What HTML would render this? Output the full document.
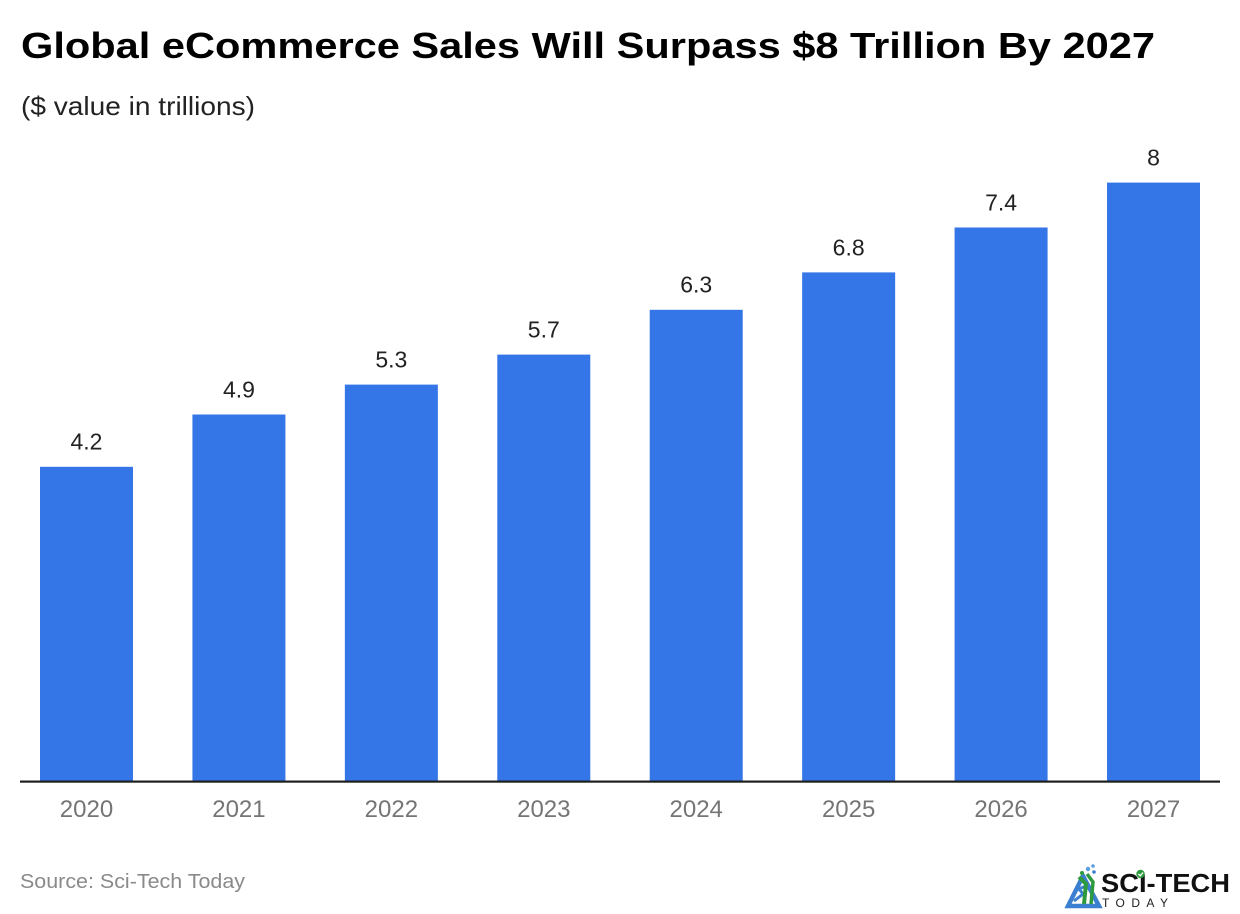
<!DOCTYPE html>
<html>
<head>
<meta charset="utf-8">
<style>
  html, body { margin: 0; padding: 0; background: #ffffff; }
  svg { display: block; }
  text { font-family: "Liberation Sans", Arial, sans-serif; }
</style>
</head>
<body>
<svg width="1240" height="914" viewBox="0 0 1240 914" xmlns="http://www.w3.org/2000/svg">
  <rect x="0" y="0" width="1240" height="914" fill="#ffffff"/>

  <!-- Title -->
  <text x="21" y="58" font-size="36" font-weight="bold" fill="#000000" textLength="1134" lengthAdjust="spacingAndGlyphs">Global eCommerce Sales Will Surpass $8 Trillion By 2027</text>
  <!-- Subtitle -->
  <text x="21" y="115" font-size="26" fill="#222222" textLength="234" lengthAdjust="spacingAndGlyphs">($ value in trillions)</text>

  <!-- Bars -->
  <g fill="#3475e8">
    <rect x="40" y="466.8" width="93" height="314.2"/>
    <rect x="192.43" y="414.5" width="93" height="366.5"/>
    <rect x="344.86" y="384.6" width="93" height="396.4"/>
    <rect x="497.29" y="354.6" width="93" height="426.4"/>
    <rect x="649.72" y="309.8" width="93" height="471.2"/>
    <rect x="802.15" y="272.4" width="93" height="508.6"/>
    <rect x="954.58" y="227.5" width="93" height="553.5"/>
    <rect x="1107.01" y="182.6" width="93" height="598.4"/>
  </g>

  <!-- Value labels -->
  <g font-size="23" fill="#222222" text-anchor="middle">
    <text x="86.5" y="449.5">4.2</text>
    <text x="238.93" y="397.5">4.9</text>
    <text x="391.36" y="367.5">5.3</text>
    <text x="543.79" y="337.5">5.7</text>
    <text x="696.22" y="292.5">6.3</text>
    <text x="848.65" y="255.5">6.8</text>
    <text x="1001.08" y="210.5">7.4</text>
    <text x="1153.51" y="165.5">8</text>
  </g>

  <!-- Axis line -->
  <rect x="20" y="780.5" width="1200" height="2.2" fill="#1f1f1f"/>

  <!-- Year labels -->
  <g font-size="24" fill="#757575" text-anchor="middle">
    <text x="86.5" y="817">2020</text>
    <text x="238.93" y="817">2021</text>
    <text x="391.36" y="817">2022</text>
    <text x="543.79" y="817">2023</text>
    <text x="696.22" y="817">2024</text>
    <text x="848.65" y="817">2025</text>
    <text x="1001.08" y="817">2026</text>
    <text x="1153.51" y="817">2027</text>
  </g>

  <!-- Source -->
  <text x="20" y="888" font-size="20" fill="#8a8a8a" textLength="225" lengthAdjust="spacingAndGlyphs">Source: Sci-Tech Today</text>

  <!-- Logo icon -->
  <g>
    <polygon points="1068,906 1083,876 1099,906" fill="none" stroke="#3a7fd0" stroke-width="4.5"/>
    <path d="M1074,901 L1083,894 L1079,889 L1088,885" fill="none" stroke="#3a7fd0" stroke-width="3"/>
    <path d="M1084,904 L1086,884 L1079,877" fill="none" stroke="#2e9a3e" stroke-width="4"/>
    <path d="M1091,904 L1093,882 L1087,874" fill="none" stroke="#2e9a3e" stroke-width="3.5"/>
    <circle cx="1088" cy="869" r="2.2" fill="#5aa0e0"/>
    <circle cx="1093" cy="866" r="1.8" fill="#5aa0e0"/>
    <circle cx="1094" cy="872" r="1.8" fill="#3a7fd0"/>
    <circle cx="1082" cy="873" r="2" fill="#2e9a3e"/>
  </g>
  <!-- Logo text -->
  <text x="1101" y="892" font-size="26" font-weight="bold" fill="#111111" textLength="129" lengthAdjust="spacingAndGlyphs">SCI-TECH</text>
  <circle cx="1140.5" cy="874" r="4.2" fill="#2e9a3e"/>
  <path d="M1138.4,874 L1140.2,875.8 L1143,872.6" fill="none" stroke="#ffffff" stroke-width="1.3"/>
  <text x="1102" y="907" font-size="12" fill="#222222" textLength="66" lengthAdjust="spacing">TODAY</text>
</svg>
</body>
</html>
